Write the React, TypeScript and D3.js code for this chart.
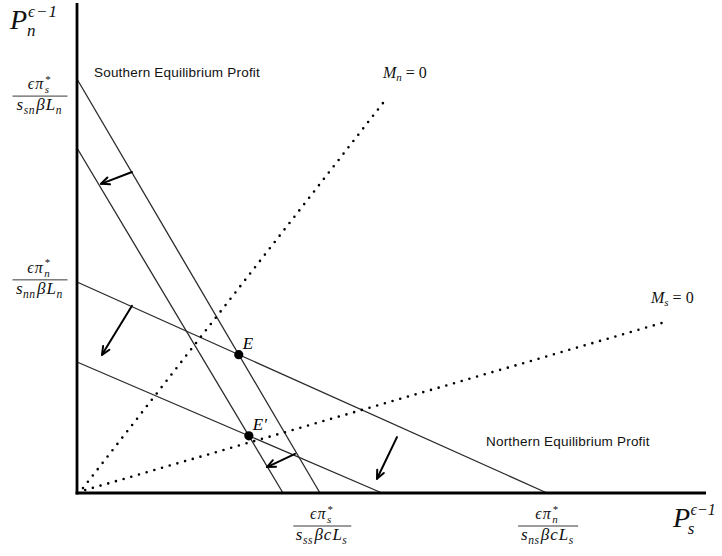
import React from 'react';
import * as d3 from 'd3';

const W = 722;
const H = 556;

// profit loci, each a straight line between its two intercepts
// order: southern, southern shifted, northern, northern shifted
const xIntercepts = [38.63, 32.75, 74.72, 48.49];
const yIntercepts = [84.49, 70.41, 43.06, 26.73];

// dotted loci M_n = 0 and M_s = 0
const lociStart = [[0.95, 1.0], [1.3, 0.6]];
const lociEnd = [[48.65, 79.6], [93.0, 34.7]];

// shift arrows
const arrowFrom = [[8.74, 65.5], [8.74, 38.2], [34.66, 8.0], [50.87, 11.4]];
const arrowTo = [[3.82, 63.1], [3.97, 28.2], [30.21, 5.3], [47.69, 2.9]];

// equilibria = crossing of two profit loci
const eqLabels = ['E', 'E\u2032'];
const eqPairs = [[0, 2], [1, 3]];

// where the fraction labels sit on the axes
const yTickPos = [81.0, 43.5];
const xTickPos = [39.0, 74.9];

const x = d3.scaleLinear().domain([0, 100]).range([77, 706]);
const y = d3.scaleLinear().domain([0, 100]).range([493, 3]);

const MATH = '"Liberation Serif", "DejaVu Serif", serif';
const SANS = '"Liberation Sans", Arial, sans-serif';

const crossing = (i: number, j: number) => {
  const si = yIntercepts[i] / xIntercepts[i];
  const sj = yIntercepts[j] / xIntercepts[j];
  const cx = (yIntercepts[j] - yIntercepts[i]) / (sj - si);
  return [cx, yIntercepts[i] - si * cx];
};

type Piece = { t: string; sub?: string; sup?: string };

const Pieces = ({ parts, size }: { parts: Piece[]; size: number }) => {
  const small = size * 0.68;
  const out: any[] = [];
  parts.forEach((p, k) => {
    out.push(<tspan key={k + 'a'} fontSize={size} letterSpacing={1}>{p.t}</tspan>);
    if (p.sup && p.sub) {
      out.push(<tspan key={k + 'b'} fontSize={small} dx={0.5} dy={-size * 0.4}>{p.sup}</tspan>);
      out.push(<tspan key={k + 'c'} fontSize={small} dx={-small * 0.5} dy={size * 0.66}>{p.sub}</tspan>);
      out.push(<tspan key={k + 'd'} fontSize={size} dy={-size * 0.26}>{'\u2009'}</tspan>);
    } else if (p.sub) {
      out.push(<tspan key={k + 'c'} fontSize={small} letterSpacing={0.5} dx={-0.5} dy={size * 0.24}>{p.sub}</tspan>);
      out.push(<tspan key={k + 'd'} fontSize={size} dy={-size * 0.24}>{'\u200a'}</tspan>);
    }
  });
  return <>{out}</>;
};

const Frac = ({ cx, by, w, num, den }: { cx: number; by: number; w: number; num: Piece[]; den: Piece[] }) => (
  <g fontFamily={MATH} fontStyle="italic" fill="#111">
    <text x={cx} y={by - 7} textAnchor="middle"><Pieces parts={num} size={16} /></text>
    <line x1={cx - w / 2} x2={cx + w / 2} y1={by} y2={by} stroke="#222" strokeWidth={0.9} />
    <text x={cx} y={by + 14} textAnchor="middle"><Pieces parts={den} size={17} /></text>
  </g>
);

const Arrow = ({ from, to }: { from: number[]; to: number[] }) => {
  const x1 = x(from[0]), y1 = y(from[1]), x2 = x(to[0]), y2 = y(to[1]);
  const a = Math.atan2(y2 - y1, x2 - x1);
  const len = 9, spread = 0.42;
  const b1 = [x2 - len * Math.cos(a - spread), y2 - len * Math.sin(a - spread)];
  const b2 = [x2 - len * Math.cos(a + spread), y2 - len * Math.sin(a + spread)];
  return (
    <g stroke="#000" strokeWidth={2} fill="none" strokeLinecap="round" strokeLinejoin="round">
      <line x1={x1} y1={y1} x2={x2} y2={y2} />
      <path d={`M${b1[0]},${b1[1]}L${x2},${y2}L${b2[0]},${b2[1]}`} />
    </g>
  );
};

export default function App() {
  const line = d3.line<number[]>().x(d => x(d[0])).y(d => y(d[1]));
  return (
    <svg width={W} height={H} style={{ position: 'absolute', left: 0, top: 0, background: '#fff' }}>
      {/* profit loci */}
      {xIntercepts.map((xi, i) => (
        <path key={i} d={line([[0, yIntercepts[i]], [xi, 0]]) as string} stroke="#2a2a2a" strokeWidth={1.3} fill="none" />
      ))}
      {/* zero loci */}
      {lociStart.map((s, i) => (
        <path key={i} d={line([s, lociEnd[i]]) as string} stroke="#000" strokeWidth={2.6}
          strokeDasharray="0 8" strokeLinecap="round" fill="none" />
      ))}
      {/* axes */}
      <line x1={x(0)} x2={x(0)} y1={y(0) + 1.5} y2={y(100)} stroke="#000" strokeWidth={2.8} />
      <line x1={x(0) - 1.4} x2={x(100)} y1={y(0)} y2={y(0)} stroke="#000" strokeWidth={2.8} />
      {/* arrows */}
      {arrowFrom.map((f, i) => <Arrow key={i} from={f} to={arrowTo[i]} />)}
      {/* equilibria */}
      {eqPairs.map(([i, j], k) => {
        const p = crossing(i, j);
        return (
          <g key={k}>
            <circle cx={x(p[0])} cy={y(p[1])} r={4.6} fill="#000" />
            <text x={x(p[0]) + 4} y={y(p[1]) - 6} fontFamily={MATH} fontStyle="italic" fontSize={17}>{eqLabels[k]}</text>
          </g>
        );
      })}
      {/* axis titles */}
      <text x={10} y={29} fontFamily={MATH} fontStyle="italic" fill="#111">
        <tspan fontSize={28}>P</tspan>
        <tspan fontSize={17} dx={1} dy={-12} letterSpacing={1}>{'\u03f5\u22121'}</tspan>
        <tspan fontSize={17} dx={-31} dy={19}>n</tspan>
      </text>
      <text x={673} y={527} fontFamily={MATH} fontStyle="italic" fill="#111">
        <tspan fontSize={28}>P</tspan>
        <tspan fontSize={16} dx={0.5} dy={-12}>{'\u03f5\u22121'}</tspan>
        <tspan fontSize={17} dx={-28} dy={19}>s</tspan>
      </text>
      {/* fraction tick labels */}
      <Frac cx={40} by={y(yTickPos[0])} w={55}
        num={[{ t: '\u03f5\u03c0', sup: '*', sub: 's' }]}
        den={[{ t: 's', sub: 'sn' }, { t: '\u03b2L', sub: 'n' }]} />
      <Frac cx={40} by={y(yTickPos[1])} w={55}
        num={[{ t: '\u03f5\u03c0', sup: '*', sub: 'n' }]}
        den={[{ t: 's', sub: 'nn' }, { t: '\u03b2L', sub: 'n' }]} />
      <Frac cx={x(xTickPos[0])} by={526} w={58}
        num={[{ t: '\u03f5\u03c0', sup: '*', sub: 's' }]}
        den={[{ t: 's', sub: 'ss' }, { t: '\u03b2cL', sub: 's' }]} />
      <Frac cx={x(xTickPos[1])} by={526} w={60}
        num={[{ t: '\u03f5\u03c0', sup: '*', sub: 'n' }]}
        den={[{ t: 's', sub: 'ns' }, { t: '\u03b2cL', sub: 's' }]} />
      {/* locus labels */}
      <text x={383} y={78} fontFamily={MATH} fill="#111">
        <tspan fontStyle="italic" fontSize={16}>M</tspan>
        <tspan fontStyle="italic" fontSize={11} dy={3}>n</tspan>
        <tspan fontSize={16} dy={-3}>{' = 0'}</tspan>
      </text>
      <text x={651} y={303} fontFamily={MATH} fill="#111">
        <tspan fontStyle="italic" fontSize={16}>M</tspan>
        <tspan fontStyle="italic" fontSize={11} dy={3}>s</tspan>
        <tspan fontSize={16} dy={-3}>{' = 0'}</tspan>
      </text>
      <text x={94} y={77} fontFamily={SANS} fontSize={13.5} letterSpacing={0.2} fill="#111">Southern Equilibrium Profit</text>
      <text x={486} y={446} fontFamily={SANS} fontSize={13.5} letterSpacing={0.2} fill="#111">Northern Equilibrium Profit</text>
    </svg>
  );
}
